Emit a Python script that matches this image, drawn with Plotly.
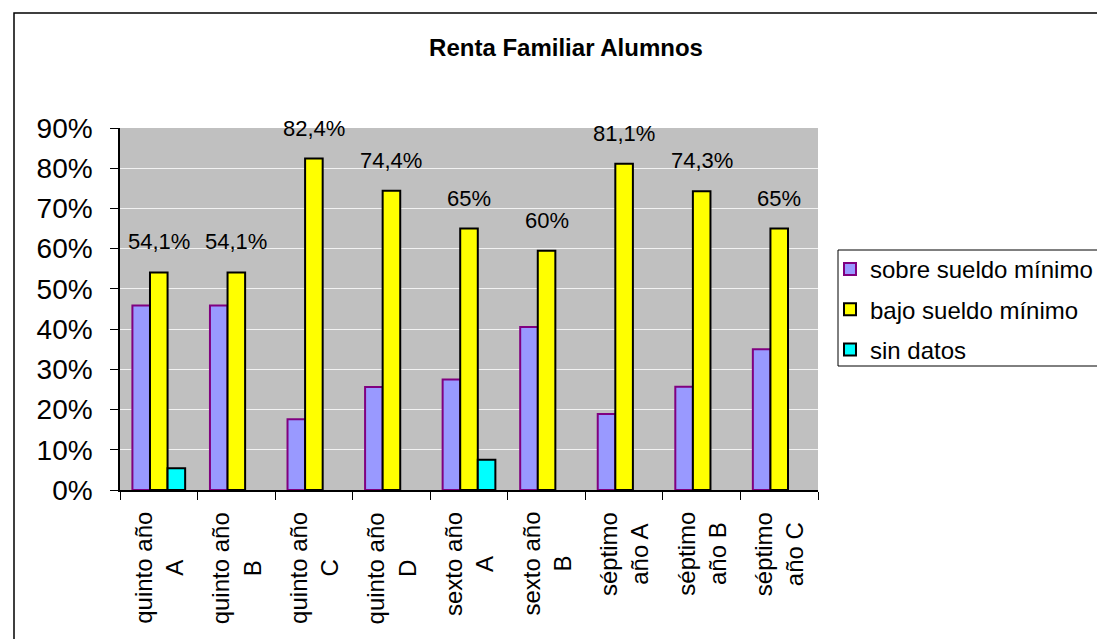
import plotly.graph_objects as go

# ---- data ----
categories = ["quinto año A", "quinto año B", "quinto año C", "quinto año D",
              "sexto año A", "sexto año B", "séptimo año A", "séptimo año B", "séptimo año C"]
category_labels = ["quinto año<br>A", "quinto año<br>B", "quinto año<br>C", "quinto año<br>D",
                   "sexto año<br>A", "sexto año<br>B", "séptimo<br>año A", "séptimo<br>año B",
                   "séptimo<br>año C"]
sobre = [0.459, 0.459, 0.176, 0.256, 0.275, 0.405, 0.189, 0.257, 0.350]
bajo = [0.541, 0.541, 0.824, 0.744, 0.650, 0.595, 0.811, 0.743, 0.650]
sin_datos = [0.054, None, None, None, 0.075, None, None, None, None]
bajo_labels = ["54,1%", "54,1%", "82,4%", "74,4%", "65%", "60%", "81,1%", "74,3%", "65%"]
y_ticks = [0, 0.1, 0.2, 0.3, 0.4, 0.5, 0.6, 0.7, 0.8, 0.9]

FONT = "Liberation Sans, Arial, sans-serif"
W, H = 1097, 639
L, R, T, B = 120, 818, 128, 490  # plot area in pixels


def px_x(p):
    return (p - L) / (R - L)


def px_y(p):
    return (B - p) / (B - T)


fig = go.Figure()
fig.add_trace(go.Bar(name="sobre sueldo mínimo", x=categories, y=sobre,
                     marker=dict(color="#9999FF", line=dict(color="#800080", width=2)),
                     legendgroup="a"))
fig.add_trace(go.Bar(name="bajo sueldo mínimo", x=categories, y=bajo,
                     marker=dict(color="#FFFF00", line=dict(color="#000000", width=2)),
                     legendgroup="b"))
fig.add_trace(go.Bar(name="sin datos", x=categories, y=sin_datos,
                     marker=dict(color="#00FFFF", line=dict(color="#000000", width=2)),
                     legendgroup="c"))

annotations = []
for c, v, t in zip(categories, bajo, bajo_labels):
    annotations.append(dict(x=c, y=v, xref="x", yref="y", text=t, showarrow=False,
                            yanchor="bottom", yshift=16, font=dict(size=22, color="#000")))
for c, t in zip(categories, category_labels):
    annotations.append(dict(x=c, y=px_y(510), xref="x", yref="paper", text=t,
                            showarrow=False, textangle=-90, yanchor="top", xanchor="center",
                            align="center", font=dict(size=24, color="#000")))

shapes = [
    # outer chart border
    dict(type="rect", xref="paper", yref="paper", x0=px_x(14), x1=px_x(1110),
         y0=px_y(660), y1=px_y(13), line=dict(color="#000", width=1.5)),
    # legend border
    dict(type="rect", xref="paper", yref="paper", x0=px_x(838), x1=px_x(1110),
         y0=px_y(366), y1=px_y(250), line=dict(color="#000", width=1)),
]

fig.update_layout(
    width=W, height=H, autosize=False,
    margin=dict(l=L, r=W - R, t=T, b=H - B, pad=0),
    paper_bgcolor="white", plot_bgcolor="#C0C0C0",
    font=dict(family=FONT, color="#000"),
    barmode="group", bargap=0.32, bargroupgap=0,
    title=dict(text="<b>Renta Familiar Alumnos</b>", xref="container", yref="container",
               x=566 / W, y=1 - 48 / H, xanchor="center", yanchor="middle",
               font=dict(size=24, color="#000")),
    showlegend=True,
    legend=dict(xref="container", yref="container", x=830 / W, y=1 - 247 / H,
                xanchor="left", yanchor="top",
                bgcolor="rgba(0,0,0,0)", borderwidth=0, font=dict(size=24),
                tracegroupgap=6, itemwidth=30),
    annotations=annotations,
    shapes=shapes,
    xaxis=dict(showticklabels=False, ticks="outside", tickson="boundaries", ticklen=8,
               tickcolor="#000", showline=True, linecolor="#000", linewidth=1.5,
               showgrid=False, automargin=False, fixedrange=True),
    yaxis=dict(range=[0, 0.9], tickvals=y_ticks, tickformat=".0%", ticks="outside",
               ticklen=8, tickcolor="#000", showline=True, linecolor="#000", linewidth=1.5,
               showgrid=True, gridcolor="#F2F2F2", gridwidth=1, zeroline=False,
               tickfont=dict(size=28), ticklabelstandoff=12, automargin=False),
)

fig.write_html("out.html", config={"responsive": False, "displayModeBar": False},
               default_width=f"{W}px", default_height=f"{H}px",
               post_script="document.body.style.margin='0';document.body.style.overflow='hidden';")
